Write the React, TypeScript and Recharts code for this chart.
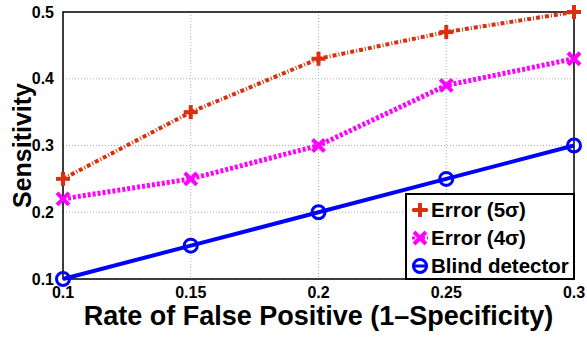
import React from 'react';
import { LineChart, Line, XAxis, YAxis, CartesianGrid, ReferenceArea } from 'recharts';

const fpRate = [0.1, 0.15, 0.2, 0.25, 0.3];
const error5 = [0.25, 0.35, 0.43, 0.47, 0.5];
const error4 = [0.22, 0.25, 0.3, 0.39, 0.43];
const blind = [0.1, 0.15, 0.2, 0.25, 0.3];
const xTicks = [0.1, 0.15, 0.2, 0.25, 0.3];
const yTicks = [0.1, 0.2, 0.3, 0.4, 0.5];

const RED = '#d9300f';
const MAGENTA = '#ff00ff';
const BLUE = '#0000ff';
const FONT = 'Liberation Sans, Arial, Helvetica, sans-serif';

const data = fpRate.map((x, i) => ({ x, e5: error5[i], e4: error4[i], blind: blind[i] }));

const PlusDot = (props: any) => {
  const { cx, cy, stroke } = props;
  if (cx == null || cy == null) return null;
  return (
    <g>
      <line x1={cx - 7} y1={cy} x2={cx + 7} y2={cy} stroke={stroke} strokeWidth={4} />
      <line x1={cx} y1={cy - 7} x2={cx} y2={cy + 7} stroke={stroke} strokeWidth={4} />
    </g>
  );
};

const CrossDot = (props: any) => {
  const { cx, cy, stroke } = props;
  if (cx == null || cy == null) return null;
  return (
    <g>
      <line x1={cx - 6} y1={cy - 6} x2={cx + 6} y2={cy + 6} stroke={stroke} strokeWidth={4} />
      <line x1={cx - 6} y1={cy + 6} x2={cx + 6} y2={cy - 6} stroke={stroke} strokeWidth={4} />
    </g>
  );
};

const CircleDot = (props: any) => {
  const { cx, cy, stroke } = props;
  if (cx == null || cy == null) return null;
  return <circle cx={cx} cy={cy} r={6.5} fill="none" stroke={stroke} strokeWidth={3} />;
};

const legendItems = [
  { name: 'Error (5σ)', color: RED, marker: 'plus', dash: '4 2 1 2' },
  { name: 'Error (4σ)', color: MAGENTA, marker: 'cross', dash: '3 2' },
  { name: 'Blind detector', color: BLUE, marker: 'circle', dash: undefined },
];

// legend drawn as an overlay box in the lower right of the plot
const LegendBox = () => (
  <div
    style={{
      position: 'absolute',
      left: 405,
      top: 193,
      width: 166,
      height: 82,
      border: '2px solid #000',
      background: '#fff',
      fontFamily: FONT,
      fontWeight: 'bold',
      fontSize: 20.5,
      paddingTop: 1,
    }}
  >
    {legendItems.map((it) => (
      <div key={it.name} style={{ display: 'flex', alignItems: 'center', height: 28 }}>
        <svg width={18} height={20} style={{ marginLeft: 4 }}>
          <line x1={1} y1={10} x2={17} y2={10} stroke={it.color} strokeWidth={3} strokeDasharray={it.dash} />
          {it.marker === 'plus' && <PlusDot cx={9} cy={10} stroke={it.color} />}
          {it.marker === 'cross' && <CrossDot cx={9} cy={10} stroke={it.color} />}
          {it.marker === 'circle' && <CircleDot cx={9} cy={10} stroke={it.color} />}
        </svg>
        <span style={{ marginLeft: 2, color: '#000', whiteSpace: 'nowrap' }}>{it.name}</span>
      </div>
    ))}
  </div>
);

const App = () => (
  <div style={{ position: 'absolute', left: 0, top: 0, width: 587, height: 337, background: '#fff', overflow: 'hidden' }}>
    <LineChart width={587} height={337} data={data} margin={{ top: 12, right: 13, left: 0, bottom: 0 }}>
      <CartesianGrid stroke="#b0b0b0" strokeDasharray="1 2" />
      <XAxis
        dataKey="x"
        type="number"
        domain={[0.1, 0.3]}
        ticks={xTicks}
        height={58}
        axisLine={false}
        tickLine={false}
        tickMargin={2}
        tick={{ fill: '#000', fontSize: 16, fontWeight: 'bold', fontFamily: FONT }}
        label={{
          value: 'Rate of False Positive (1\u2013Specificity)',
          position: 'insideBottom',
          offset: 12,
          style: { fill: '#000', fontSize: 27, fontWeight: 'bold', fontFamily: FONT },
        }}
      />
      <YAxis
        type="number"
        domain={[0.1, 0.5]}
        ticks={yTicks}
        width={63}
        axisLine={false}
        tickLine={false}
        tickMargin={3}
        tick={{ fill: '#000', fontSize: 16, fontWeight: 'bold', fontFamily: FONT }}
        label={{
          value: 'Sensitivity',
          angle: -90,
          position: 'insideLeft',
          offset: 22,
          style: { textAnchor: 'middle', fill: '#000', fontSize: 25, fontWeight: 'bold', fontFamily: FONT },
        }}
      />
      <ReferenceArea x1={0.1} x2={0.3} y1={0.1} y2={0.5} fill="none" stroke="#000" strokeWidth={1.5} />
      <Line
        dataKey="e5"
        stroke={RED}
        strokeWidth={4}
        strokeDasharray="4 2 1 2"
        dot={<PlusDot />}
        isAnimationActive={false}
      />
      <Line
        dataKey="e4"
        stroke={MAGENTA}
        strokeWidth={5}
        strokeDasharray="3 2"
        dot={<CrossDot />}
        isAnimationActive={false}
      />
      <Line dataKey="blind" stroke={BLUE} strokeWidth={4} dot={<CircleDot />} isAnimationActive={false} />
    </LineChart>
    <LegendBox />
  </div>
);

export default App;
